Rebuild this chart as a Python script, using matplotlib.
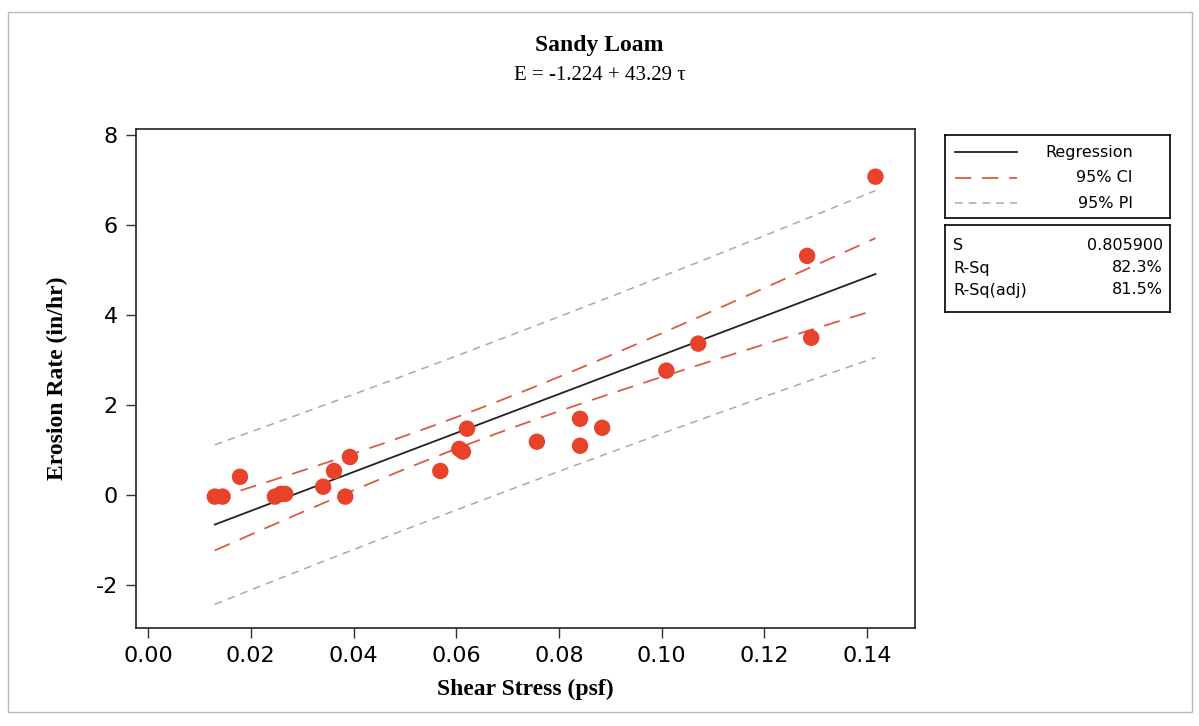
import numpy as np
import matplotlib.pyplot as plt
from matplotlib.patches import Rectangle
from matplotlib.lines import Line2D

plt.rcParams['axes.unicode_minus'] = False

# shear stress (psf) and erosion rate (in/hr)
shear = [0.0130, 0.0145, 0.0179, 0.0247, 0.0259, 0.0267, 0.0341, 0.0362,
         0.0384, 0.0393, 0.0569, 0.0606, 0.0613, 0.0621, 0.0757, 0.0841,
         0.0841, 0.0884, 0.1009, 0.1071, 0.1283, 0.1291, 0.1416]
erosion = [-0.04, -0.04, 0.40, -0.04, 0.02, 0.02, 0.18, 0.53,
           -0.04, 0.84, 0.53, 1.02, 0.96, 1.47, 1.18, 1.69,
           1.09, 1.49, 2.76, 3.36, 5.31, 3.49, 7.07]

# fit reported on the chart
b0 = -1.224
b1 = 43.29
s_err = 0.805900
r_sq = "82.3%"
r_sq_adj = "81.5%"
t_crit = 2.080

xticks = [0.00, 0.02, 0.04, 0.06, 0.08, 0.10, 0.12, 0.14]
yticks = [-2, 0, 2, 4, 6, 8]

x = np.array(shear)
y = np.array(erosion)
n = len(x)
xbar = x.mean()
sxx = ((x - xbar) ** 2).sum()

xl = np.linspace(x.min(), x.max(), 100)
yl = b0 + b1 * xl
ci = t_crit * s_err * np.sqrt(1.0 / n + (xl - xbar) ** 2 / sxx)
pi = t_crit * s_err * np.sqrt(1 + 1.0 / n + (xl - xbar) ** 2 / sxx)

W, H = 1199, 726
fig = plt.figure(figsize=(W / 100, H / 100), dpi=100)

# outer frame of the figure
fig.patches.append(Rectangle((8 / W, 1 - 712 / H), 1184 / W, 700 / H,
                             transform=fig.transFigure, fill=False,
                             edgecolor='#bbbbbb', linewidth=1))

ax = fig.add_axes([136 / W, 1 - 628 / H, 779 / W, 499 / H])

ci_col = '#dd5a45'
pi_col = '#aaaaaa'
dot_col = '#e8432a'

ax.plot(xl, yl, color='#222222', linewidth=1.3, zorder=3)
ax.plot(xl, yl + ci, color=ci_col, linewidth=1.3, dashes=(9, 6), zorder=2)
ax.plot(xl, yl - ci, color=ci_col, linewidth=1.3, dashes=(9, 6), zorder=2)
ax.plot(xl, yl + pi, color=pi_col, linewidth=1.1, dashes=(5, 4), zorder=2)
ax.plot(xl, yl - pi, color=pi_col, linewidth=1.1, dashes=(5, 4), zorder=2)
ax.scatter(x, y, s=140, color=dot_col, edgecolors='none', zorder=4)

ax.set_xlim(-0.00234, 0.1493)
ax.set_ylim(-2.96, 8.13)
ax.set_xticks(xticks)
ax.set_xticklabels(["%.2f" % v for v in xticks])
ax.set_yticks(yticks)
ax.tick_params(labelsize=16, length=7, width=1, color='#333333', pad=6)
for sp in ax.spines.values():
    sp.set_linewidth(1.2)
    sp.set_color('#222222')

ax.set_xlabel("Shear Stress (psf)", family='Liberation Serif',
              fontweight='bold', fontsize=17, labelpad=9)
ax.set_ylabel("Erosion Rate (in/hr)", family='Liberation Serif',
              fontweight='bold', fontsize=17)
ax.yaxis.set_label_coords(-0.087, 0.5)

fig.text(0.5, 1 - 45 / H, "Sandy Loam", ha='center', va='center',
         family='Liberation Serif', fontweight='bold', fontsize=17)
fig.text(0.5, 1 - 75 / H, "E = -1.224 + 43.29 \u03c4", ha='center',
         va='center', family='Liberation Serif', fontsize=15)

# legend box
lax = fig.add_axes([945 / W, 1 - 218 / H, 225 / W, 83 / H])
lax.set_xlim(0, 225)
lax.set_ylim(83, 0)
lax.set_xticks([])
lax.set_yticks([])
for sp in lax.spines.values():
    sp.set_linewidth(1.2)
handles = [
    ("Regression", dict(color='#222222', linewidth=1.3), 17),
    ("95% CI", dict(color=ci_col, linewidth=1.3, dashes=(9, 6)), 43),
    ("95% PI", dict(color=pi_col, linewidth=1.1, dashes=(5, 4)), 68),
]
for label, style, yy in handles:
    lax.add_line(Line2D([10, 72], [yy, yy], **style))
    lax.text(188, yy, label, ha='right', va='center', fontsize=11.5)

# stats box
sax = fig.add_axes([945 / W, 1 - 312 / H, 225 / W, 87 / H])
sax.set_xlim(0, 225)
sax.set_ylim(87, 0)
sax.set_xticks([])
sax.set_yticks([])
for sp in sax.spines.values():
    sp.set_linewidth(1.2)
stats = [("S", "%.6f" % s_err), ("R-Sq", r_sq), ("R-Sq(adj)", r_sq_adj)]
for i, (name, val) in enumerate(stats):
    yy = 21 + i * 22
    sax.text(8, yy, name, ha='left', va='center', fontsize=11.5)
    sax.text(218, yy, val, ha='right', va='center', fontsize=11.5)

plt.savefig("out.png", dpi=100)
